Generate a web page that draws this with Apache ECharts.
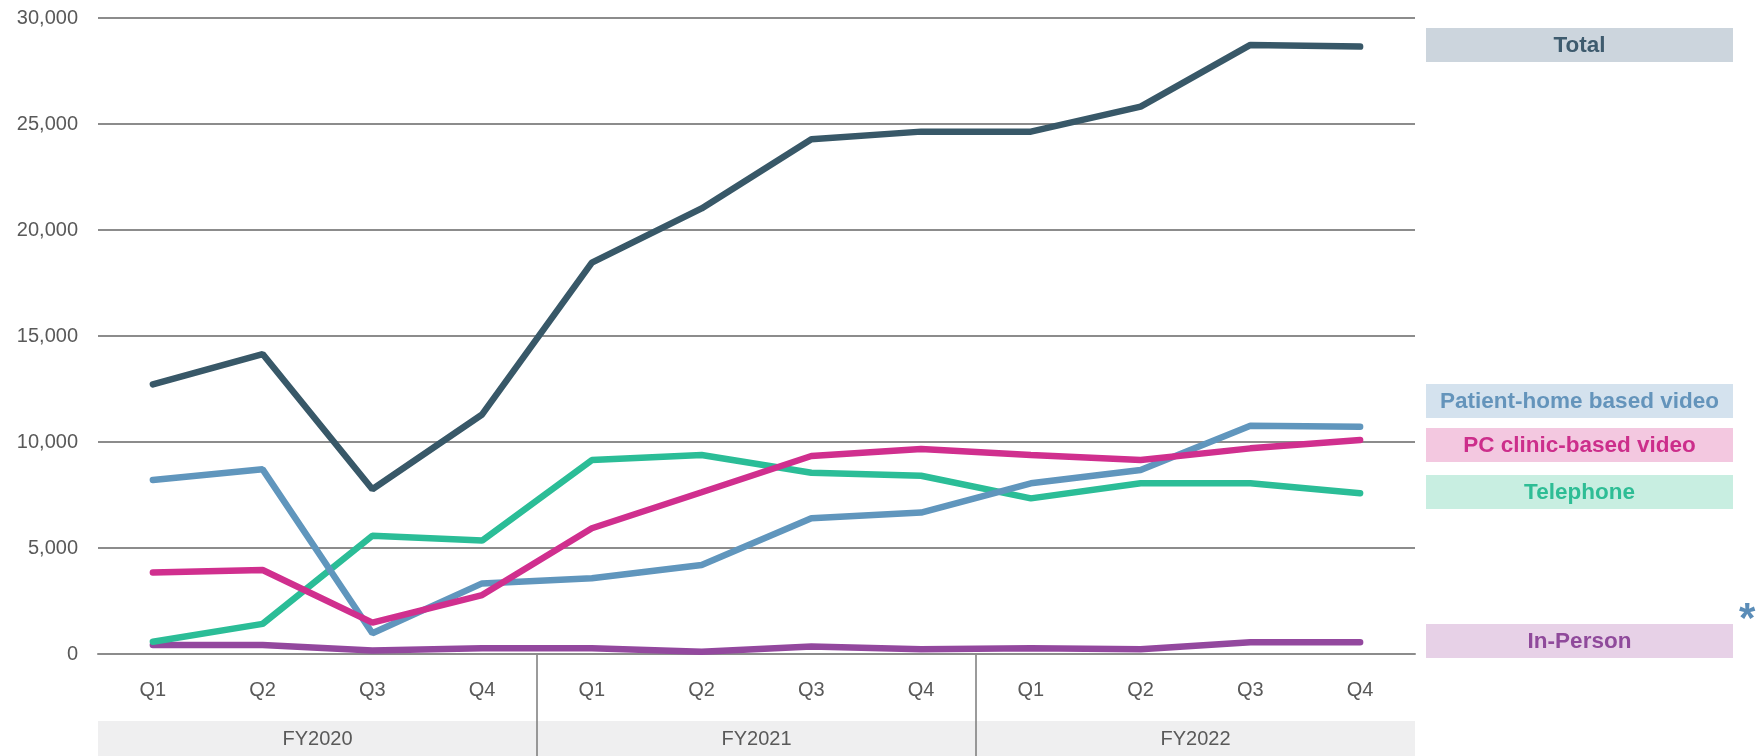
<!DOCTYPE html>
<html>
<head>
<meta charset="utf-8">
<script src="https://cdn.jsdelivr.net/npm/echarts@6/dist/echarts.min.js"></script>
<style>
  html, body { margin: 0; padding: 0; background: #fff; }
  #main { width: 1758px; height: 756px; }
</style>
</head>
<body>
<div id="main"></div>
<script>
var quarters = ['Q1', 'Q2', 'Q3', 'Q4', 'Q1', 'Q2', 'Q3', 'Q4', 'Q1', 'Q2', 'Q3', 'Q4'];
var fiscalYears = ['FY2020', 'FY2021', 'FY2022'];

var total       = [12720, 14150, 7770, 11300, 18460, 21020, 24280, 24640, 24640, 25820, 28730, 28650];
var patientHome = [8210, 8710, 980, 3330, 3570, 4200, 6400, 6670, 8050, 8680, 10770, 10720];
var pcClinic    = [3850, 3960, 1480, 2780, 5930, 7630, 9340, 9670, 9390, 9150, 9700, 10090];
var telephone   = [580, 1420, 5580, 5350, 9150, 9390, 8550, 8410, 7340, 8050, 8050, 7580];
var inPerson    = [430, 430, 160, 270, 270, 110, 350, 220, 270, 220, 550, 550];

var font = '"Liberation Sans", Arial, sans-serif';
var gray = '#8c8c8c';

// drawn bottom to top
var lines = [
  { name: 'In-Person', data: inPerson, color: '#93489e', box: '#e7d1e7', text: '#8f4a9b', boxTop: 624 },
  { name: 'Telephone', data: telephone, color: '#2bbd97', box: '#c8eee1', text: '#2ebd95', boxTop: 475 },
  { name: 'Patient-home based video', data: patientHome, color: '#6096bd', box: '#d4e2ee', text: '#6494bb', boxTop: 384 },
  { name: 'PC clinic-based video', data: pcClinic, color: '#d02f8e', box: '#f3c8e0', text: '#cc2e8b', boxTop: 428 },
  { name: 'Total', data: total, color: '#385868', box: '#ccd5dd', text: '#3e5b6e', boxTop: 28 }
];

var graphics = [
  { type: 'rect', z: -1, shape: { x: 98, y: 721, width: 1317, height: 35 }, style: { fill: '#efeff0' } },
  { type: 'text', x: 1739, y: 599, style: { text: '*', fill: '#5b8db8', font: 'bold 42px ' + font } }
];
lines.forEach(function (s) {
  graphics.push({ type: 'rect', shape: { x: 1426, y: s.boxTop, width: 307, height: 34 }, style: { fill: s.box } });
  graphics.push({ type: 'text', x: 1579.5, y: s.boxTop + 18, style: {
    text: s.name, fill: s.text, font: 'bold 22.5px ' + font, align: 'center', verticalAlign: 'middle' } });
});

var myChart = echarts.init(document.getElementById('main'));
myChart.setOption({
  animation: false,
  grid: { left: 98, right: 343, top: 18, bottom: 102 },
  xAxis: [{
    type: 'category',
    data: quarters,
    boundaryGap: true,
    axisLine: { lineStyle: { color: gray, width: 2 } },
    axisTick: { show: false },
    axisLabel: { interval: 0, margin: 26, color: '#595959', fontSize: 20, fontFamily: font }
  }, {
    type: 'category',
    data: fiscalYears,
    position: 'bottom',
    offset: 60,
    axisLine: { show: false },
    axisTick: { show: false },
    axisLabel: { margin: 15, color: '#595959', fontSize: 20, fontFamily: font }
  }],
  yAxis: {
    type: 'value',
    min: 0,
    max: 30000,
    interval: 5000,
    axisLine: { show: false },
    axisTick: { show: false },
    splitLine: { lineStyle: { color: gray, width: 2 } },
    axisLabel: {
      margin: 20, color: '#595959', fontSize: 20, fontFamily: font,
      formatter: function (v) { return v.toLocaleString('en-US'); }
    }
  },
  series: lines.map(function (s) {
    return {
      name: s.name,
      type: 'line',
      data: s.data,
      symbol: 'none',
      lineStyle: { color: s.color, width: 6.5, cap: 'round' },
      itemStyle: { color: s.color }
    };
  })
});

// fiscal-year dividers between Q4 and the next Q1, from the axis scale
var axisY = myChart.convertToPixel({ yAxisIndex: 0 }, 0);
[3, 7].forEach(function (i) {
  var x = (myChart.convertToPixel({ xAxisIndex: 0 }, i) + myChart.convertToPixel({ xAxisIndex: 0 }, i + 1)) / 2;
  graphics.push({ type: 'line', shape: { x1: x, y1: axisY, x2: x, y2: 756 }, style: { stroke: '#7a7a7a', lineWidth: 1.5 } });
});
myChart.setOption({ graphic: graphics });
</script>
</body>
</html>
